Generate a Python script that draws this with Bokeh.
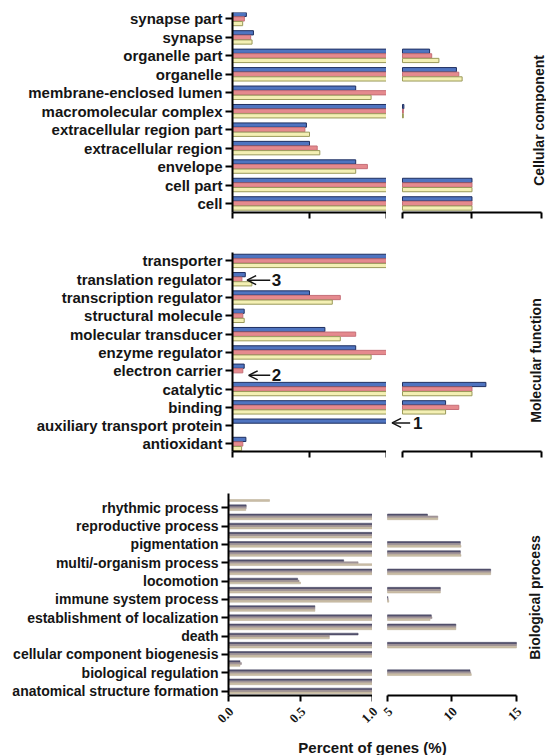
import numpy as np
from math import pi
from bokeh.plotting import figure
from bokeh.layouts import column, row
from bokeh.models import (ColumnDataSource, Range1d, FixedTicker, Label, LabelSet, Arrow, OpenHead)
from bokeh.transform import dodge
from bokeh.embed import file_html
from bokeh.resources import INLINE

FONT = "Liberation Sans"
INK = "#151515"

# ---------------- data (listed top to bottom as in the chart) ----------------
cc_cats = ["synapse part", "synapse", "organelle part", "organelle", "membrane-enclosed lumen",
           "macromolecular complex", "extracellular region part", "extracellular region",
           "envelope", "cell part", "cell"]
cc_blue = [0.09, 0.136, 6.95, 8.88, 0.8, 5.1, 0.48, 0.5, 0.8, 10.0, 10.0]
cc_pink = [0.077, 0.118, 7.1, 9.05, 1.0, 5.06, 0.47, 0.55, 0.876, 10.0, 10.0]
cc_yellow = [0.066, 0.127, 7.62, 9.29, 0.9, 5.06, 0.5, 0.567, 0.8, 10.0, 10.0]

mf_cats = ["transporter", "translation regulator", "transcription regulator", "structural molecule",
           "molecular transducer", "enzyme regulator", "electron carrier", "catalytic", "binding",
           "auxiliary transport protein", "antioxidant"]
mf_blue = [1.0, 0.083, 0.5, 0.076, 0.6, 0.8, 0.076, 11.0, 8.1, 1.0, 0.087]
mf_pink = [1.0, 0.061, 0.7, 0.067, 0.8, 1.0, 0.067, 10.0, 9.05, 0.0, 0.067]
mf_yellow = [1.0, 0.126, 0.648, 0.076, 0.7, 0.9, 0.0, 10.0, 8.1, 0.0, 0.059]

bp_cats = ["rhythmic process", "reproductive process", "pigmentation", "multi/-organism process",
           "locomotion", "immune system process", "establishment of localization", "death",
           "cellular component biogenesis", "biological regulation", "anatomical structure formation"]
# 22 bar rows, labels sit on every second row
bp_dark = [0.0, 0.123, 8.1, 1.0, 1.0, 10.65, 10.65, 0.8, 13.0, 0.48, 9.1,
           5.03, 0.6, 8.4, 10.3, 0.9, 15.0, 1.0, 0.08, 11.4, 1.0, 1.0]
bp_mid = [0.0, 0.123, 8.9, 1.0, 1.0, 10.65, 10.65, 0.9, 13.0, 0.49, 9.1,
          5.06, 0.6, 8.45, 10.3, 0.7, 15.0, 1.0, 0.09, 11.45, 1.0, 1.0]
bp_light = [0.285, 0.12, 8.9, 1.0, 1.0, 10.7, 10.7, 1.0, 13.0, 0.5, 9.1,
            5.1, 0.6, 8.3, 10.3, 0.7, 15.0, 1.0, 0.08, 11.5, 1.0, 1.0]

left_ticks = [0.0, 0.5, 1.0]
left_tick_labels = ["0.0", "0.5", "1.0"]
right_ticks = [5, 10, 15]
right_tick_labels = ["5", "10", "15"]

TOP_FILLS = ["#4f74c0", "#e58a8e", "#f4f0b4"]
TOP_LINES = ["#1f2f60", "#c66f78", "#9a9a5a"]
BP_FILLS = ["#55536f", "#a3979b", "#cbbfa7"]
BP_LINES = ["#45435e", "#938489", "#b8ab93"]


def style(p, label_size):
    p.outline_line_color = None
    p.xgrid.grid_line_color = None
    p.ygrid.grid_line_color = None
    p.background_fill_color = "white"
    p.border_fill_color = "white"
    for ax in p.axis:
        ax.axis_line_width = 2
        ax.axis_line_color = "black"
        ax.major_tick_line_width = 2
        ax.major_tick_line_color = "black"
        ax.major_tick_out = 7
        ax.major_tick_in = 0
        ax.minor_tick_line_color = "black"
        ax.minor_tick_line_width = 2
        ax.minor_tick_out = 6
        ax.minor_tick_in = 0
        ax.major_label_text_font = FONT
        ax.major_label_text_font_style = "bold"
        ax.major_label_text_font_size = label_size
        ax.major_label_text_color = INK
        ax.major_label_standoff = 3


def build(n_rows, tick_rows, tick_names, series, fills, lines, ylim, bar_h, offsets,
          lgeom, rgeom, height, btop, bbot, title, title_xy, bar_lw, label_size):
    yr = Range1d(*ylim)
    lw, lbl = lgeom
    L = figure(width=lw, height=height, x_range=Range1d(0, 1.0), y_range=yr,
               output_backend="svg", toolbar_location=None,
               min_border_left=lbl, min_border_right=0, min_border_top=btop, min_border_bottom=bbot)
    rw, rx0, rx1 = rgeom
    R = figure(width=rw, height=height, x_range=Range1d(rx0, rx1), y_range=yr, y_axis_location=None,
               output_backend="svg", toolbar_location=None,
               min_border_left=0, min_border_right=0, min_border_top=btop, min_border_bottom=bbot)
    rows_idx = np.arange(n_rows)[::-1]
    for vals, fc, lc, off in zip(series, fills, lines, offsets):
        v = np.asarray(vals, float)
        m = v > 0
        sl = ColumnDataSource(dict(y=rows_idx[m], right=np.minimum(v[m], 1.0)))
        L.hbar(y=dodge("y", off), left=0, right="right", height=bar_h, source=sl,
               fill_color=fc, line_color=lc, line_width=bar_lw)
        m2 = v > 5
        sr = ColumnDataSource(dict(y=rows_idx[m2], right=np.minimum(v[m2], 15.0)))
        R.hbar(y=dodge("y", off), left=5, right="right", height=bar_h, source=sr,
               fill_color=fc, line_color=lc, line_width=bar_lw)
    style(L, label_size)
    style(R, label_size)
    L.yaxis.ticker = FixedTicker(ticks=list(tick_rows))
    L.yaxis.major_label_overrides = {int(r): nm for r, nm in zip(tick_rows, tick_names)}
    # x axes: tick marks only (labels are drawn once under the bottom panel)
    L.xaxis.ticker = FixedTicker(ticks=[], minor_ticks=left_ticks)
    R.xaxis.ticker = FixedTicker(ticks=[], minor_ticks=right_ticks)
    R.xaxis.bounds = (right_ticks[0], right_ticks[-1])
    for p in (L, R):
        p.xaxis.major_label_standoff = 0
    R.add_layout(Label(x=title_xy[0], y=title_xy[1], text=title, angle=pi / 2,
                       text_align="center", text_baseline="middle", text_font=FONT,
                       text_font_style="bold", text_font_size="14px", text_color=INK))
    return L, R


# Cellular component
cc_rows = list(range(len(cc_cats)))[::-1]
ccL, ccR = build(len(cc_cats), cc_rows, cc_cats, [cc_blue, cc_pink, cc_yellow], TOP_FILLS, TOP_LINES,
                 (-0.49, 10.35), 0.23, [0.25, 0.0, -0.25], (386, 232), (160, 3.849, 15.36),
                 240, 12, 28, "Cellular component", (14.8, 4.5), 1, "15px")

# Molecular function
mf_rows = list(range(len(mf_cats)))[::-1]
mfL, mfR = build(len(mf_cats), mf_rows, mf_cats, [mf_blue, mf_pink, mf_yellow], TOP_FILLS, TOP_LINES,
                 (-0.41, 10.46), 0.23, [0.25, 0.0, -0.25], (386, 232), (160, 3.849, 15.36),
                 241, 12, 30, "Molecular function", (14.57, 4.56), 1, "15px")


def mark(p, xs, xe, y, tx, txt):
    p.add_layout(Arrow(end=OpenHead(size=9, line_width=1.5, line_color=INK),
                       x_start=xs, y_start=y, x_end=xe, y_end=y, line_width=1.5, line_color=INK))
    p.add_layout(Label(x=tx, y=y, text=txt, text_align="left", text_baseline="middle",
                       text_font=FONT, text_font_style="bold", text_font_size="17px",
                       text_color=INK))

mark(mfL, 0.245, 0.095, 9 - 0.05, 0.255, "3")
mark(mfL, 0.245, 0.105, 4 - 0.25, 0.255, "2")
mark(mfR, 5.55, 4.25, 1 + 0.15, 5.75, "1")

# Biological process
n_bp = len(bp_dark)
bp_rows = [n_bp - 2 - 2 * i for i in range(len(bp_cats))]
bpL, bpR = build(n_bp, bp_rows, bp_cats, [bp_dark, bp_mid, bp_light], BP_FILLS, BP_LINES,
                 (-0.49, 21.55), 0.2, [0.21, 0.0, -0.21], (372, 228), (174, 3.837, 17.33),
                 222, 12, 8, "Biological process", (16.47, 10.2), 0.5, "14px")

# bottom strip: tick labels of the bottom panel and the x axis title
T = figure(width=546, height=52, x_range=Range1d(0, 546), y_range=Range1d(0, 52),
           x_axis_location=None, y_axis_location=None, min_border=0,
           output_backend="svg", toolbar_location=None)
T.extra_x_ranges = {"seg_left": Range1d(-228 / 144, 318 / 144),
                    "seg_right": Range1d(5 - 387 / 12.9, 5 + 159 / 12.9)}
T.outline_line_color = None
T.xgrid.grid_line_color = None
T.ygrid.grid_line_color = None
for name, ticks, labels in (("seg_left", left_ticks, left_tick_labels),
                            ("seg_right", right_ticks, right_tick_labels)):
    src = ColumnDataSource(dict(x=ticks, y=[46] * len(ticks), t=labels))
    T.add_layout(LabelSet(x="x", y="y", text="t", source=src, x_range_name=name,
                          angle=pi / 4, text_align="right", text_baseline="middle",
                          x_offset=3, text_font=FONT, text_font_style="bold",
                          text_font_size="13px", text_color=INK))
T.add_layout(Label(x=372, y=8, text="Percent of genes (%)", text_align="center",
                   text_baseline="middle", text_font=FONT, text_font_style="bold",
                   text_font_size="15px", text_color=INK))

layout = column(row(ccL, ccR), row(mfL, mfR), row(bpL, bpR), T)
open("out.html", "w").write(file_html(layout, INLINE))
